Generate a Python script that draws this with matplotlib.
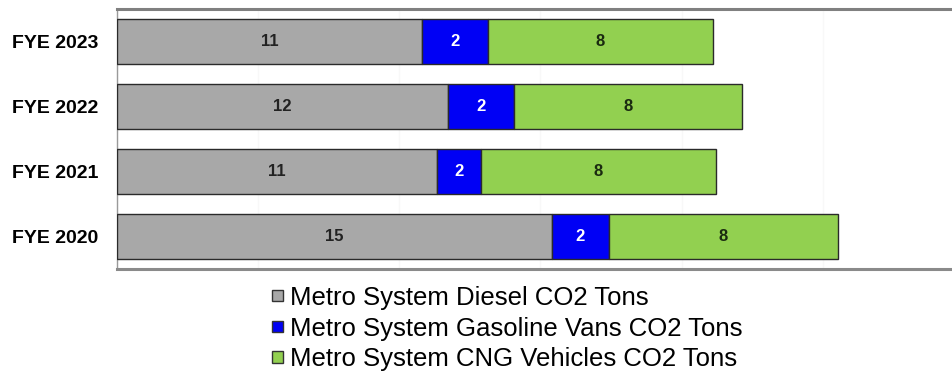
import matplotlib
matplotlib.use("Agg")
import matplotlib.pyplot as plt
import numpy as np

years = ["FYE 2020", "FYE 2021", "FYE 2022", "FYE 2023"]
diesel = [15.4, 11.33, 11.72, 10.8]
gasoline = [2.02, 1.56, 2.34, 2.34]
cng = [8.11, 8.32, 8.07, 7.97]
series_names = ["Metro System Diesel CO2 Tons",
                "Metro System Gasoline Vans CO2 Tons",
                "Metro System CNG Vehicles CO2 Tons"]
colors = ["#A8A8A8", "#0000F5", "#92D050"]
label_colors = ["#222222", "white", "#1a2a10"]

plt.rcParams['font.family'] = ['Liberation Sans', 'DejaVu Sans']

fig = plt.figure(figsize=(9.53, 3.77), dpi=100)
ax = fig.add_axes([117/953, 1 - 269/377, 847/953, 260/377])

y = np.arange(len(years))
left = np.zeros(len(years))
handles = []
for vals, col, lc, name in zip([diesel, gasoline, cng], colors, label_colors, series_names):
    bars = ax.barh(y, vals, left=left, height=0.69, color=col,
                   edgecolor="#2a2a2a", linewidth=1.0, label=name, zorder=3)
    handles.append(bars)
    for yi, l, v in zip(y, left, vals):
        ax.text(l + v/2, yi, f"{round(v):d}", ha="center", va="center",
                fontsize=12, fontweight="bold", color=lc, zorder=4)
    left = left + np.array(vals)

ax.set_xlim(0, 30)
ax.set_ylim(-0.5, 3.5)
ax.set_yticks(y)
ax.set_yticklabels(years, fontsize=14, fontweight="bold")
ax.tick_params(axis="y", length=0, pad=13.5)
ax.set_xticks([0, 5, 10, 15, 20, 25, 30])
ax.tick_params(axis="x", length=0, labelbottom=False)
ax.grid(axis="x", color="#F8F8F8", linewidth=1, zorder=0)

ax.spines["right"].set_visible(False)
ax.spines["top"].set_color("#808080")
ax.spines["top"].set_linewidth(2.2)
ax.spines["bottom"].set_color("#8a8a8a")
ax.spines["bottom"].set_linewidth(2.2)
ax.spines["left"].set_color("#9a9a9a")
ax.spines["left"].set_linewidth(1.0)

leg = fig.legend(handles=handles, labels=series_names, loc="upper left",
                 bbox_to_anchor=(259/953, 1 - 273/377), frameon=False,
                 fontsize=18.5, handlelength=0.45, handleheight=0.3,
                 handletextpad=0.25, labelspacing=0.26, borderpad=0)
for h in leg.legend_handles:
    h.set_edgecolor("#333333")
    h.set_linewidth(1.0)

fig.savefig("out.png", dpi=100)
